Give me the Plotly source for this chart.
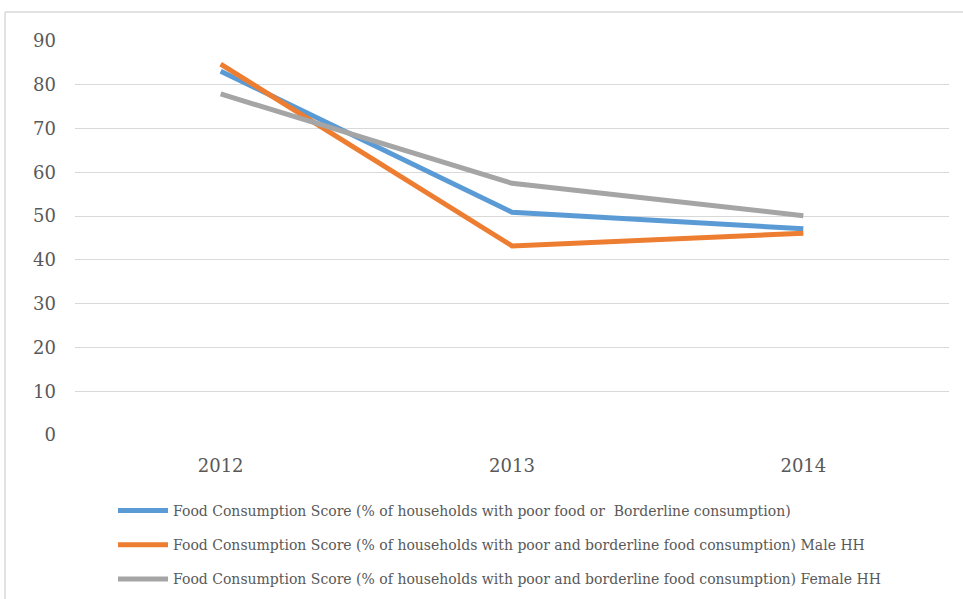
import plotly.graph_objects as go

years = ["2012", "2013", "2014"]
fcs_all = [83.1, 50.9, 47.1]
fcs_male = [84.7, 43.2, 46.1]
fcs_female = [77.9, 57.5, 50.1]

names = [
    "Food Consumption Score (% of households with poor food or \u00a0Borderline consumption)",
    "Food Consumption Score (% of households with poor and borderline food consumption) Male HH",
    "Food Consumption Score (% of households with poor and borderline food consumption) Female HH",
]
colors = ["#5B9BD5", "#ED7D31", "#A5A5A5"]
y_ticks = [0, 10, 20, 30, 40, 50, 60, 70, 80, 90]

FONT = "DejaVu Serif"
W, H = 963, 599
L, R, T, B = 75, 14, 41, 164

fig = go.Figure()
for name, vals, col in zip(names, [fcs_all, fcs_male, fcs_female], colors):
    fig.add_trace(go.Scatter(
        x=years, y=vals, name=name, mode="lines", legendgroup=name,
        line=dict(color=col, width=5),
    ))

pw = W - L - R
ph = H - T - B

def px_to_paper_x(px):
    return (px - L) / pw

def px_to_paper_y(py):
    return (H - B - py) / ph

# thin frame around the chart area (top and left edges)
frame = dict(type="line", xref="paper", yref="paper",
             line=dict(color="#D9D9D9", width=1.5))
fig.add_shape(**frame, x0=px_to_paper_x(5), x1=px_to_paper_x(5),
              y0=px_to_paper_y(599), y1=px_to_paper_y(12))
fig.add_shape(**frame, x0=px_to_paper_x(5), x1=px_to_paper_x(963),
              y0=px_to_paper_y(12), y1=px_to_paper_y(12))

fig.update_layout(
    width=W, height=H,
    margin=dict(l=L, r=R, t=T, b=B, autoexpand=False),
    paper_bgcolor="white", plot_bgcolor="white",
    font=dict(family=FONT, color="#595959"),
    showlegend=True,
    legend=dict(
        orientation="v", x=px_to_paper_x(113), xanchor="left",
        y=px_to_paper_y(495), yanchor="top",
        font=dict(family=FONT, size=14, color="#595959"),
        tracegroupgap=13, itemwidth=50,
        bgcolor="rgba(0,0,0,0)",
    ),
    xaxis=dict(
        type="category", range=[-0.5, 2.5], showgrid=False, zeroline=False,
        showline=False,
        tickfont=dict(family=FONT, size=18, color="#595959"),
        ticks="", ticklabelstandoff=18,
    ),
    yaxis=dict(
        range=[0, 90], tickvals=y_ticks, showgrid=True, gridcolor="#D9D9D9",
        gridwidth=1, zeroline=False, showline=False,
        tickfont=dict(family=FONT, size=18, color="#595959"),
        ticks="", ticklabelstandoff=18,
    ),
)

fig.write_html("out.html")
